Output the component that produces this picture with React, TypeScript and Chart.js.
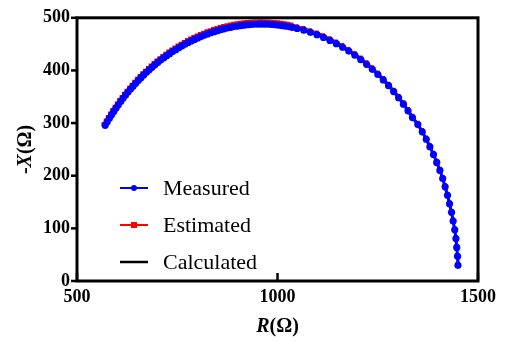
import React, { useEffect, useRef } from "react";
import { Chart, registerables } from "chart.js";

Chart.register(...registerables);

const xTickValues = [500, 1000, 1500];
const yTickValues = [0, 100, 200, 300, 400, 500];

const measuredR = [
  570.3, 575.5, 580.8, 586.2, 591.7, 597.4, 603.1, 609.0, 614.9, 621.0,
  627.2, 633.5, 639.8, 646.3, 652.9, 659.5, 666.3, 673.2, 680.1, 687.1,
  694.2, 701.4, 708.7, 716.0, 723.4, 730.9, 738.4, 746.1, 753.8, 761.5,
  769.3, 777.2, 785.1, 793.1, 801.1, 809.2, 817.3, 825.5, 833.7, 841.9,
  850.2, 858.5, 866.9, 875.3, 883.7, 892.1, 900.5, 909.0, 917.5, 925.9,
  934.5, 943.0, 951.5, 960.0, 968.5, 977.0, 985.5, 994.1, 1002.5, 1011.0,
  1019.5, 1027.9, 1036.3,
  1048.9, 1065.6, 1082.2, 1098.6, 1114.8, 1130.9, 1146.8, 1162.4, 1177.7, 1192.9,
  1207.7, 1222.2, 1236.4, 1250.3, 1263.8, 1276.9, 1289.7, 1302.0, 1314.0, 1325.5,
  1336.5, 1350.0, 1361.0, 1371.0, 1380.0, 1389.0, 1397.0, 1405.0, 1412.0, 1418.0,
  1424.0, 1429.0, 1434.0, 1438.0, 1442.0, 1445.0, 1447.0, 1449.0, 1450.0,
];
const measuredX = [
  295.7, 302.5, 309.1, 315.7, 322.2, 328.5, 334.8, 341.0, 347.1, 353.0,
  358.9, 364.6, 370.1, 375.6, 381.0, 386.3, 391.4, 396.5, 401.3, 406.1,
  410.7, 415.2, 419.6, 423.8, 428.0, 431.9, 435.8, 439.5, 443.1, 446.5,
  449.9, 453.1, 456.1, 459.0, 461.8, 464.4, 466.9, 469.3, 471.6, 473.6,
  475.6, 477.4, 479.0, 480.6, 482.0, 483.3, 484.3, 485.3, 486.1, 486.8,
  487.3, 487.7, 487.9, 488.0, 487.9, 487.7, 487.3, 486.8, 486.1, 485.3,
  484.3, 483.3, 482.0,
  479.9, 476.4, 472.4, 467.9, 462.8, 457.1, 450.9, 444.1, 436.7, 428.9,
  420.5, 411.6, 402.2, 392.3, 381.9, 371.1, 359.8, 348.1, 335.9, 323.3,
  310.4, 297.1, 283.4, 269.3, 255.0, 240.3, 225.3, 210.1, 194.6, 178.9,
  162.9, 146.7, 130.4, 113.9, 97.3, 80.5, 63.7, 46.8, 29.8,
];

const estimatedR = [
  566.7, 571.9, 577.2, 582.7, 588.2, 593.9, 599.6, 605.6, 611.5, 617.6,
  623.8, 630.2, 636.5, 643.0, 649.6, 656.3, 663.1, 670.0, 677.0, 684.0,
  691.1, 698.3, 705.7, 713.0, 720.4, 728.0, 735.5, 743.2, 751.0, 758.7,
  766.5, 774.5, 782.4, 790.4, 798.4, 806.6, 814.7, 822.9, 831.2, 839.4,
  847.8, 856.1, 864.5, 873.0, 881.4, 889.8, 898.3, 906.8, 915.3, 923.8,
  932.4, 940.9, 949.5, 958.0, 966.5, 975.1, 983.6, 992.2, 1000.7, 1009.2,
  1017.7, 1026.2, 1034.6,
  1047.3, 1064.0, 1080.7, 1097.2, 1113.4, 1129.6, 1145.6, 1161.2, 1176.6, 1191.9,
  1206.7, 1221.3, 1235.5, 1249.5, 1263.0, 1276.2, 1289.1, 1301.4, 1313.5, 1325.0,
  1336.0, 1349.1, 1360.1, 1370.2, 1379.2, 1388.2, 1396.3, 1404.3, 1411.3, 1417.4,
  1423.4, 1428.4, 1433.4, 1437.4, 1441.5, 1444.5, 1446.5, 1448.5, 1449.5,
];
const estimatedX = [
  297.9, 304.7, 311.4, 318.0, 324.5, 330.8, 337.2, 343.4, 349.5, 355.4,
  361.4, 367.1, 372.8, 378.3, 383.8, 389.1, 394.3, 399.4, 404.4, 409.3,
  414.0, 418.5, 423.0, 427.3, 431.5, 435.7, 439.6, 443.4, 447.1, 450.6,
  454.0, 457.4, 460.5, 463.5, 466.3, 469.0, 471.6, 474.0, 476.3, 478.4,
  480.4, 482.3, 484.0, 485.6, 487.0, 488.3, 489.3, 490.3, 491.1, 491.8,
  492.3, 492.7, 492.9, 493.0, 492.9, 492.7, 492.3, 491.8, 491.1, 490.3,
  489.3, 488.3, 487.0,
  483.9, 480.4, 476.3, 471.8, 466.7, 461.0, 454.7, 447.9, 440.5, 432.7,
  424.2, 415.3, 405.8, 395.9, 385.5, 374.6, 363.3, 351.5, 339.3, 326.6,
  313.7, 300.3, 286.6, 272.4, 258.0, 243.3, 228.2, 213.0, 197.4, 181.6,
  165.6, 149.3, 132.9, 116.4, 99.7, 82.8, 66.0, 49.0, 31.9,
];

const calculatedR = [566.7, 611.5, 663.1, 713.0, 766.5, 822.9, 881.4, 940.9, 1000.7, 1047.3, 1129.6, 1206.7, 1276.2, 1336.0, 1388.2, 1423.4, 1444.5, 1449.5];
const calculatedX = [297.9, 349.5, 394.3, 427.3, 454.0, 474.0, 487.0, 492.7, 491.1, 483.9, 461.0, 424.2, 374.6, 313.7, 243.3, 165.6, 82.8, 31.9];

const legendItems = [
  { label: "Measured", color: "#0000ff", marker: "circle" },
  { label: "Estimated", color: "#ff0000", marker: "rect" },
  { label: "Calculated", color: "#000000", marker: "none" },
];

const SERIF = "'Liberation Serif', 'Times New Roman', serif";

const pairs = (xs: number[], ys: number[]) => xs.map((x, i) => ({ x, y: ys[i] }));

const framePlugin = {
  id: "framePlugin",
  afterDraw(chart: any) {
    const { ctx, chartArea } = chart;
    const { left, right, top, bottom } = chartArea;
    const xs = chart.scales.x;
    const ys = chart.scales.y;
    ctx.save();
    ctx.strokeStyle = "#000";
    ctx.lineWidth = 3;
    ctx.strokeRect(left, top, right - left, bottom - top);
    ctx.lineWidth = 2.5;
    yTickValues.forEach((v) => {
      const y = ys.getPixelForValue(v);
      ctx.beginPath();
      ctx.moveTo(left - 6, y);
      ctx.lineTo(left, y);
      ctx.stroke();
    });
    xTickValues.forEach((v) => {
      const x = xs.getPixelForValue(v);
      ctx.beginPath();
      ctx.moveTo(x, bottom);
      ctx.lineTo(x, bottom - 8);
      ctx.stroke();
    });

    const drawParts = (parts: { t: string; f: string }[], cx: number, cy: number, rot: number) => {
      ctx.save();
      ctx.translate(cx, cy);
      ctx.rotate(rot);
      let total = 0;
      parts.forEach((p) => {
        ctx.font = p.f;
        total += ctx.measureText(p.t).width;
      });
      let x = -total / 2;
      ctx.fillStyle = "#000";
      ctx.textBaseline = "middle";
      ctx.textAlign = "left";
      parts.forEach((p) => {
        ctx.font = p.f;
        ctx.fillText(p.t, x, 0);
        x += ctx.measureText(p.t).width;
      });
      ctx.restore();
    };
    const bold = `bold 20px ${SERIF}`;
    const boldItalic = `italic bold 20px ${SERIF}`;
    drawParts(
      [
        { t: "R", f: boldItalic },
        { t: "(Ω)", f: bold },
      ],
      (left + right) / 2,
      327,
      0
    );
    drawParts(
      [
        { t: "-", f: bold },
        { t: "X", f: boldItalic },
        { t: "(Ω)", f: bold },
      ],
      26,
      (top + bottom) / 2,
      -Math.PI / 2
    );

    const legendYs = [188, 225, 262];
    legendItems.forEach((it, i) => {
      const y = legendYs[i];
      ctx.strokeStyle = it.color;
      ctx.lineWidth = it.marker === "none" ? 2.5 : 2;
      ctx.beginPath();
      ctx.moveTo(120, y);
      ctx.lineTo(148, y);
      ctx.stroke();
      ctx.fillStyle = it.color;
      if (it.marker === "circle") {
        ctx.beginPath();
        ctx.arc(134, y, 3, 0, Math.PI * 2);
        ctx.fill();
      } else if (it.marker === "rect") {
        ctx.fillRect(131, y - 3, 6, 6);
      }
      ctx.fillStyle = "#000";
      ctx.font = `22px ${SERIF}`;
      ctx.textBaseline = "middle";
      ctx.textAlign = "left";
      ctx.fillText(it.label, 163, y + 1);
    });
    ctx.restore();
  },
};

export default function App() {
  const canvasRef = useRef<HTMLCanvasElement | null>(null);

  useEffect(() => {
    if (!canvasRef.current) return;
    const chart = new Chart(canvasRef.current, {
      type: "scatter",
      data: {
        datasets: [
          {
            label: "Measured",
            data: pairs(measuredR, measuredX),
            showLine: true,
            borderColor: "#0000ff",
            backgroundColor: "#0000ff",
            borderWidth: 3,
            pointRadius: 3.6,
            pointBorderWidth: 0,
            pointStyle: "circle",
          },
          {
            label: "Estimated",
            data: pairs(estimatedR, estimatedX),
            showLine: true,
            borderColor: "#ff0000",
            backgroundColor: "#ff0000",
            borderWidth: 2,
            pointRadius: 3,
            pointBorderWidth: 0,
            pointStyle: "rect",
          },
          {
            label: "Calculated",
            data: pairs(calculatedR, calculatedX),
            showLine: true,
            borderColor: "#000000",
            backgroundColor: "#000000",
            borderWidth: 1.5,
            pointRadius: 0,
            tension: 0.4,
          },
        ],
      },
      options: {
        responsive: false,
        animation: false,
        layout: { padding: { top: 13, right: 27, left: 0, bottom: 0 } },
        plugins: {
          legend: { display: false },
          tooltip: { enabled: false },
          title: { display: false },
        },
        scales: {
          x: {
            type: "linear",
            min: 500,
            max: 1500,
            afterBuildTicks: (s: any) => {
              s.ticks = xTickValues.map((v) => ({ value: v }));
            },
            afterFit: (s: any) => {
              s.height = 62;
            },
            grid: { display: false, drawTicks: false },
            border: { display: false },
            ticks: {
              padding: 6,
              color: "#000",
              font: { family: SERIF, size: 18, weight: "bold" },
              maxRotation: 0,
              callback: (v: any) => String(v),
            },
          },
          y: {
            type: "linear",
            min: 0,
            max: 500,
            afterBuildTicks: (s: any) => {
              s.ticks = yTickValues.map((v) => ({ value: v }));
            },
            afterFit: (s: any) => {
              s.width = 77;
            },
            grid: { display: false, drawTicks: false },
            border: { display: false },
            ticks: {
              padding: 7,
              color: "#000",
              font: { family: SERIF, size: 18, weight: "bold" },
              callback: (v: any) => String(v),
            },
          },
        },
      },
      plugins: [framePlugin],
    });
    return () => chart.destroy();
  }, []);

  return (
    <div style={{ position: "absolute", left: 0, top: 0, width: 505, height: 343, background: "#fff" }}>
      <canvas ref={canvasRef} width={505} height={343} />
    </div>
  );
}
